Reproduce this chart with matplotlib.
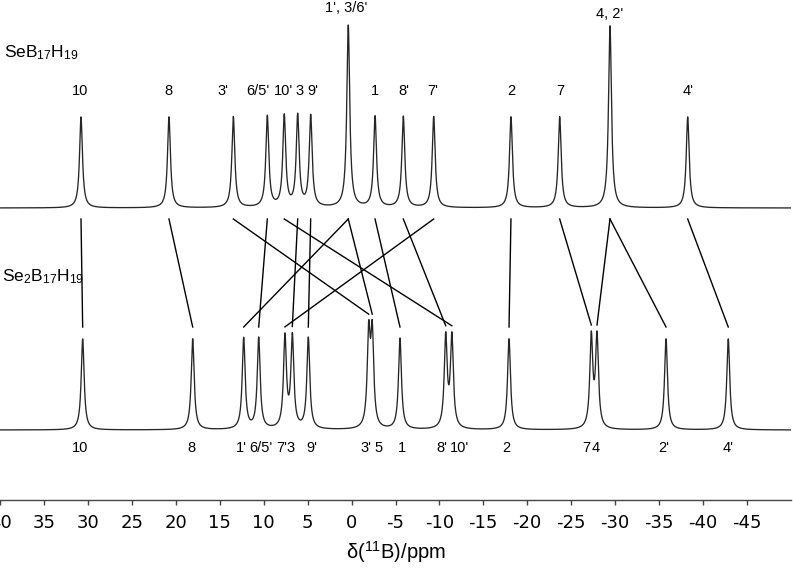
import numpy as np
import matplotlib.pyplot as plt

plt.rcParams['mathtext.fontset'] = 'custom'
plt.rcParams['mathtext.rm'] = 'Liberation Sans'
plt.rcParams['mathtext.it'] = 'Liberation Sans:italic'

# chemical shifts (ppm)
top_pos = [30.82, 20.80, 13.47, 9.60, 7.67, 6.14, 4.66, 0.38, -2.67,
           -5.89, -9.35, -18.15, -23.70, -29.43, -38.28]
top_amp = [1, 1, 1, 1, 1, 1, 1, 2, 1, 1, 1, 1, 1, 2, 1]
top_names = ['10', '8', "3'", "6/5'", "10'", '3', "9'", "1', 3/6'", '1',
             "8'", "7'", '2', '7', "4, 2'", "4'"]

bot_pos = [30.63, 18.10, 12.29, 10.58, 7.59, 6.75, 4.93, -1.95, -2.35,
           -5.51, -10.72, -11.42, -17.93, -27.30, -27.95, -35.81, -42.90]
bot_amp = [1] * len(bot_pos)

# bottom labels (one label covers the 7'/3 pair)
bot_names = ['10', '8', "1'", "6/5'", "7'3", "9'", "3'", '5', '1',
             "8'", "10'", '2', '7', '4', "2'", "4'"]

# correlations: index in top_pos -> index in bot_pos
links = [(0, 0), (1, 1), (2, 7), (3, 3), (4, 11), (5, 5), (6, 6), (7, 2),
         (7, 8), (8, 9), (9, 10), (10, 4), (11, 12), (12, 13), (13, 14),
         (13, 15), (14, 16)]

# label x positions (ppm), nudged apart like in the figure
top_lab_x = [30.93, 20.91, 14.68, 10.66, 7.70, 5.96, 4.40, 0.64, -2.67,
             -5.97, -9.27, -18.23, -23.74, -29.35, -38.28]
top_lab_y = [409] * 15
top_lab_y[7] = 492.5
top_lab_y[13] = 486.3
bot_lab_x = [30.93, 18.21, 12.60, 10.32, 7.47, 4.54, -1.64, -3.04, -5.71,
             -10.26, -12.27, -17.67, -26.78, -27.80, -35.50, -42.90]

gamma = 0.2
scale = 91
top_base = 292
bot_base = 70

x = np.linspace(40, -50, 30000)


def spectrum(pos, amp):
    y = np.zeros_like(x)
    for p, a in zip(pos, amp):
        y += a * gamma**2 / ((x - p)**2 + gamma**2)
    return y * scale


top_y = spectrum(top_pos, top_amp) + top_base
bot_y = spectrum(bot_pos, bot_amp) + bot_base

fig = plt.figure(figsize=(7.93, 5.74), dpi=100)
ax = fig.add_axes([0.4 / 793, 74 / 574, 790.2 / 793, 500 / 574])
ax.set_xlim(40, -50)
ax.set_ylim(0, 500)

ax.plot(x, top_y, color='#262626', lw=0.95)
ax.plot(x, bot_y, color='#262626', lw=0.95)

for ti, bi in links:
    xb = bot_pos[bi]
    peak = np.interp(-xb, -x, bot_y)
    yb = max(173, peak + 6)
    ax.plot([top_pos[ti], xb], [281, yb], color='black', lw=1.0)

for name, lx, ly in zip(top_names, top_lab_x, top_lab_y):
    ax.text(lx, ly, name, ha='center', va='center', fontsize=10.5,
            family='Liberation Sans')
for name, lx in zip(bot_names, bot_lab_x):
    ax.text(lx, 52, name, ha='center', va='center', fontsize=10.5,
            family='Liberation Sans')

ax.text(0.004, 447, 'SeB$_{17}$H$_{19}$', transform=ax.get_yaxis_transform(),
        ha='left', va='center', fontsize=12.5, family='Liberation Sans')
ax.text(0.002, 223, 'Se$_{2}$B$_{17}$H$_{19}$', transform=ax.get_yaxis_transform(),
        ha='left', va='center', fontsize=12.5, family='Liberation Sans')

for s in ['top', 'left', 'right']:
    ax.spines[s].set_visible(False)
ax.spines['bottom'].set_color('#444444')
ax.spines['bottom'].set_linewidth(1.0)
ax.set_yticks([])
ticks = list(range(40, -50, -5))
ax.set_xticks(ticks)
ax.set_xticklabels([str(t) for t in ticks])
ax.tick_params(axis='x', direction='out', length=3.5, width=1.0,
               color='#444444', labelsize=13, pad=6.5)
ax.set_xlabel('δ($^{11}$B)/ppm', fontsize=14.5,
              family='Liberation Sans', labelpad=5)

fig.savefig('out.png', dpi=100)
